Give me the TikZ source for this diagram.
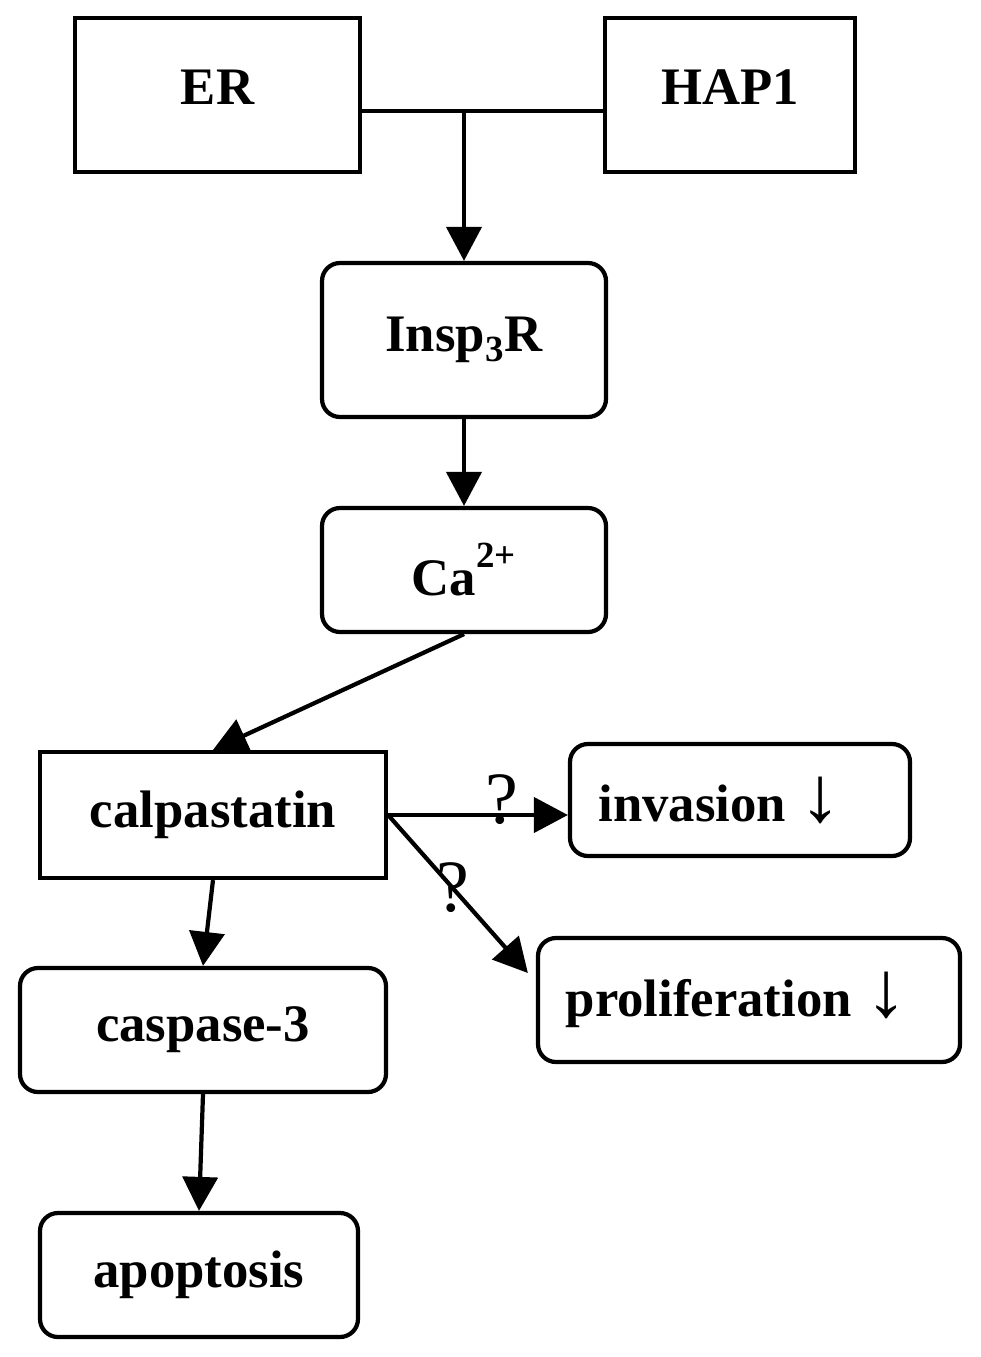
\documentclass[tikz,border=0pt]{standalone}
\usepackage{fontspec}
\setmainfont{Liberation Serif}
\usepackage{tikz}
\usetikzlibrary{arrows.meta,positioning,calc}

\newcommand{\dnarr}{\scalebox{1.6}[1.5]{↓}}

\begin{document}
\begin{tikzpicture}[
 font=\fontsize{30}{36}\selectfont\bfseries,
 line width=2.4pt,
 sbox/.style={draw,rectangle,inner sep=0pt,align=center},
 rbox/.style={draw,rectangle,rounded corners=0.36cm,inner sep=0pt,align=center},
 arr/.style={-{Triangle[length=0.68cm,width=0.7cm]}},
 qmark/.style={font=\fontsize{42}{46}\selectfont\mdseries,inner sep=0pt}
]
\useasboundingbox (0,0) rectangle (19.6,-27.14);
\node[sbox,minimum width=5.7cm,minimum height=3.08cm] (er) at (4.35,-1.9) {\raisebox{0.3cm}{ER}};
\node[sbox,minimum width=5.0cm,minimum height=3.08cm] (hap) at (14.6,-1.9) {\raisebox{0.3cm}{HAP1}};
\node[rbox,minimum width=5.68cm,minimum height=3.08cm] (insp) at (9.28,-6.8) {Insp\textsubscript{3}R};
\node[rbox,minimum width=5.68cm,minimum height=2.48cm] (ca) at (9.28,-11.4) {Ca\raisebox{0.5ex}{\textsuperscript{2+}}};
\node[sbox,minimum width=6.92cm,minimum height=2.52cm] (calp) at (4.26,-16.3) {calpastatin};
\node[rbox,minimum width=6.8cm,minimum height=2.24cm] (inv) at (14.8,-16.0) {invasion \dnarr\hspace{0.8cm}};
\node[rbox,minimum width=8.44cm,minimum height=2.48cm] (prolif) at (14.98,-20.0) {proliferation \dnarr\hspace{0.5cm}};
\node[rbox,minimum width=7.32cm,minimum height=2.48cm] (casp) at (4.06,-20.6) {caspase-3};
\node[rbox,minimum width=6.36cm,minimum height=2.48cm] (apop) at (3.98,-25.5) {apoptosis};
% ER and HAP1 join, then go down
\coordinate (jn) at (9.28,-2.22);
\draw (er.east |- jn) -- (hap.west |- jn);
\draw[arr] (jn) -- (insp);
\draw[arr] (insp) -- (ca);
\draw[arr] (ca.south) -- (calp.north);
\draw[arr] (calp.east) -- (calp.east -| inv.west) node[qmark,pos=0.63,yshift=0.3cm] (q1) {?};
\draw[arr] (calp.east) -- ([shift={(-0.16,0.54)}]prolif.west) node[qmark,pos=0.46] (q2) {?};
\draw[arr] (calp.south) -- (casp.north);
\draw[arr] (casp.south) -- (apop.north);
\end{tikzpicture}
\end{document}
